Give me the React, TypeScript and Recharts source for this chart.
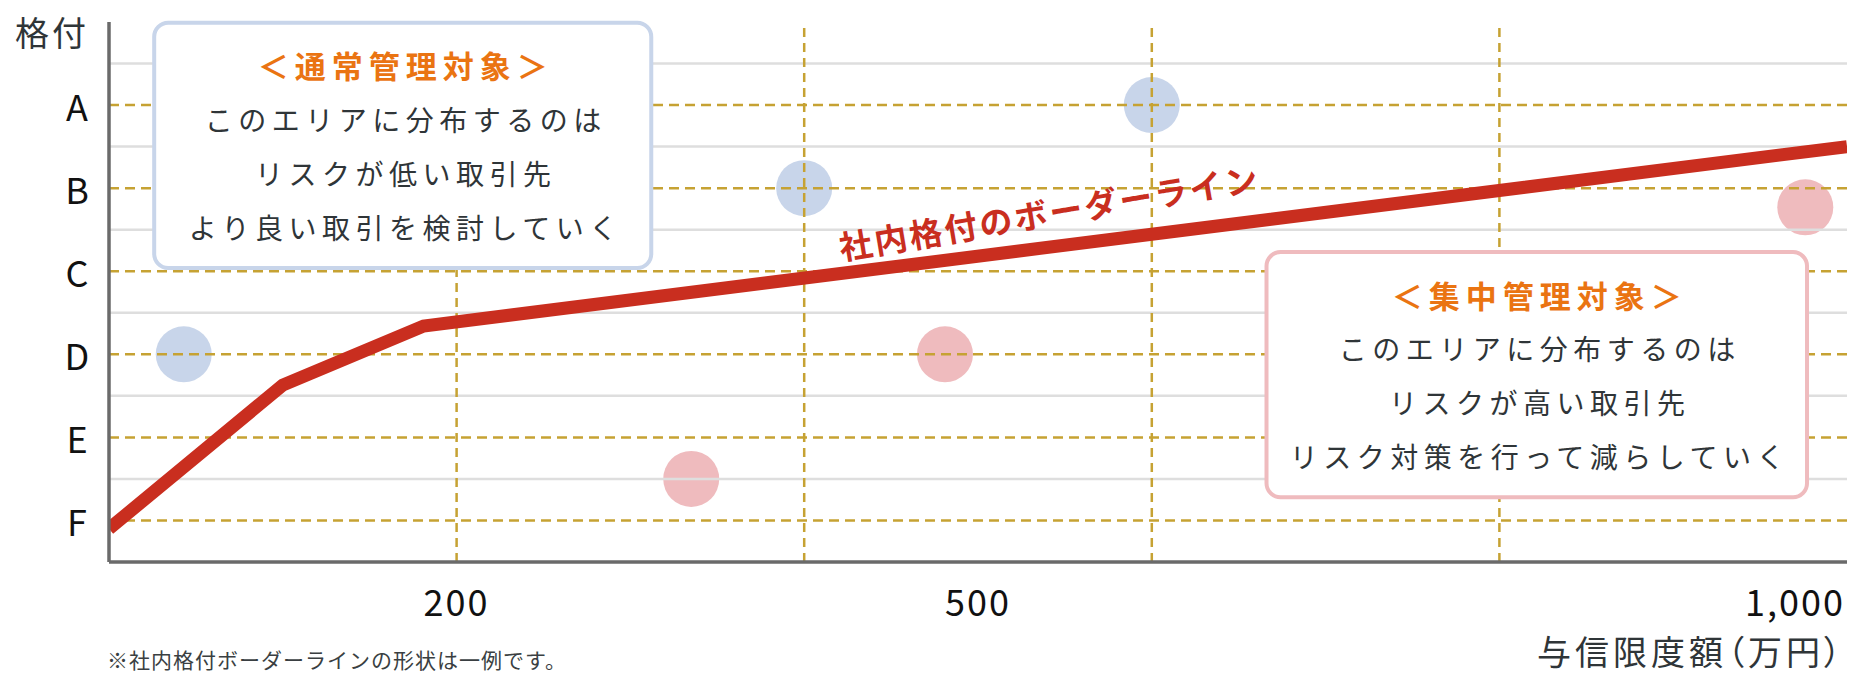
import {
  ComposedChart,
  Label,
  Line,
  ReferenceArea,
  ReferenceDot,
  ReferenceLine,
  Scatter,
  XAxis,
  YAxis,
} from "recharts";

const FONT = "'Noto Sans CJK JP', 'Noto Sans', sans-serif";

// 与信限度額 (万円) の目盛り
const amountTicks = [200, 500, 1000];
const amountTickLabels = ["200", "500", "1,000"];
const amountGrid = [200, 400, 600, 800];

// 格付 (F=1 ... A=6)
const gradeValues = [1, 2, 3, 4, 5, 6];
const gradeLabels = ["F", "E", "D", "C", "B", "A"];
const gradeMidLines = [1.5, 2.5, 3.5, 4.5, 5.5, 6.5];

// 社内格付のボーダーライン
const borderAmount = [0, 100, 181, 1000];
const borderGrade = [0.9, 2.63, 3.34, 5.5];

// 取引先 (リスク低 / リスク高)
const lowRiskAmount = [43, 400, 600];
const lowRiskGrade = [3, 5, 6];
const highRiskAmount = [335, 481, 976];
const highRiskGrade = [1.5, 3, 4.77];

const normalTitle = "＜通常管理対象＞";
const normalLines = ["このエリアに分布するのは", "リスクが低い取引先", "より良い取引を検討していく"];
const focusTitle = "＜集中管理対象＞";
const focusLines = ["このエリアに分布するのは", "リスクが高い取引先", "リスク対策を行って減らしていく"];

const borderData = borderAmount.map((x, i) => ({ x, y: borderGrade[i] }));
const lowRiskData = lowRiskAmount.map((x, i) => ({ x, y: lowRiskGrade[i] }));
const highRiskData = highRiskAmount.map((x, i) => ({ x, y: highRiskGrade[i] }));

const GOLD = "#c6a233";
const GRAY = "#dedede";
const RED = "#c92e1f";
const AXIS = "#6a6a6a";

function NoteBox(props: any) {
  const { x, y, width, height, border, title, lines } = props;
  const cx = x + width / 2;
  return (
    <g>
      <rect
        x={x}
        y={y}
        width={width}
        height={height}
        rx={14}
        ry={14}
        fill="#fff"
        stroke={border}
        strokeWidth={4}
      />
      <text
        x={cx + 3}
        y={y + 42}
        textAnchor="middle"
        dominantBaseline="central"
        fontFamily={FONT}
        fontSize={31}
        fontWeight={700}
        letterSpacing={6}
        fill="#ea7412"
      >
        {title}
      </text>
      {lines.map((line: string, i: number) => (
        <text
          key={line}
          x={cx + 3}
          y={y + 96 + i * 54}
          textAnchor="middle"
          dominantBaseline="central"
          fontFamily={FONT}
          fontSize={28}
          letterSpacing={5.5}
          fill="#2f3538"
        >
          {line}
        </text>
      ))}
    </g>
  );
}

function GradeTick(props: any) {
  const { y, payload } = props;
  return (
    <text
      x={77}
      y={y}
      textAnchor="middle"
      dominantBaseline="central"
      fontFamily={FONT}
      fontSize={36}
      fill="#111"
    >
      {gradeLabels[gradeValues.indexOf(payload.value)]}
    </text>
  );
}

function AmountTick(props: any) {
  const { x, payload } = props;
  const i = amountTicks.indexOf(payload.value);
  const last = i === amountTicks.length - 1;
  return (
    <text
      x={last ? x + 4 : x}
      y={600}
      textAnchor={last ? "end" : "middle"}
      dominantBaseline="central"
      fontFamily={FONT}
      fontSize={36}
      letterSpacing={2}
      fill="#111"
    >
      {amountTickLabels[i]}
    </text>
  );
}

export default function App() {
  return (
    <div style={{ position: "absolute", left: 0, top: 0, width: 1857, height: 676, background: "#fff" }}>
      <ComposedChart
        width={1857}
        height={676}
        margin={{ top: 22, right: 10, bottom: 0, left: 0 }}
      >
        <XAxis
          type="number"
          dataKey="x"
          domain={[0, 1000]}
          ticks={amountTicks}
          tick={<AmountTick />}
          tickLine={false}
          axisLine={{ stroke: AXIS, strokeWidth: 3.5 }}
          height={114}
          allowDataOverflow
        >
          <Label
            content={() => (
              <g>
                <text
                  x={1845}
                  y={650}
                  textAnchor="end"
                  dominantBaseline="central"
                  fontFamily={FONT}
                  fontSize={34}
                  letterSpacing={4}
                  fill="#2f3538"
                  style={{ fontFeatureSettings: "'palt'" }}
                >
                  与信限度額（万円）
                </text>
                <text
                  x={107}
                  y={659}
                  dominantBaseline="central"
                  fontFamily={FONT}
                  fontSize={21}
                  letterSpacing={1}
                  fill="#3a3f42"
                >
                  ※社内格付ボーダーラインの形状は一例です。
                </text>
              </g>
            )}
          />
        </XAxis>
        <YAxis
          type="number"
          dataKey="y"
          domain={[0.5, 7]}
          ticks={gradeValues}
          tick={<GradeTick />}
          tickLine={false}
          axisLine={{ stroke: AXIS, strokeWidth: 3.5 }}
          width={109}
          allowDataOverflow
        >
          <Label
            content={() => (
              <text
                x={15}
                y={31}
                dominantBaseline="central"
                fontFamily={FONT}
                fontSize={34}
                letterSpacing={3}
                fill="#2f3538"
              >
                格付
              </text>
            )}
          />
        </YAxis>

        <Scatter
          data={lowRiskData}
          fill="#c8d5ea"
          isAnimationActive={false}
          zIndex={100}
          shape={(p: any) => <circle cx={p.cx} cy={p.cy} r={28} fill="#c8d5ea" />}
        />
        <Scatter
          data={highRiskData}
          fill="#efbbbe"
          isAnimationActive={false}
          zIndex={100}
          shape={(p: any) => <circle cx={p.cx} cy={p.cy} r={28} fill="#efbbbe" />}
        />

        {gradeMidLines.map((g) => (
          <ReferenceLine key={`m${g}`} y={g} stroke={GRAY} strokeWidth={2.5} zIndex={200} />
        ))}
        {gradeValues.map((g) => (
          <ReferenceLine
            key={`g${g}`}
            y={g}
            stroke={GOLD}
            strokeWidth={2.5}
            strokeDasharray="10 6"
            zIndex={210}
          />
        ))}
        {amountGrid.map((a) => (
          <ReferenceLine
            key={`a${a}`}
            x={a}
            stroke={GOLD}
            strokeWidth={2.5}
            strokeDasharray="9 6"
            zIndex={210}
          />
        ))}

        <Line
          data={borderData}
          dataKey="y"
          stroke={RED}
          strokeWidth={13}
          strokeLinejoin="miter"
          dot={false}
          activeDot={false}
          isAnimationActive={false}
          zIndex={300}
        />

        <ReferenceDot
          x={541}
          y={4.72}
          r={0}
          zIndex={900}
          shape={(p: any) => (
            <text
              x={p.cx}
              y={p.cy}
              textAnchor="middle"
              dominantBaseline="central"
              transform={`rotate(-9.5 ${p.cx} ${p.cy})`}
              fontFamily={FONT}
              fontSize={33}
              fontWeight={700}
              letterSpacing={2.5}
              fill={RED}
            >
              社内格付のボーダーライン
            </text>
          )}
        />

        <ReferenceArea
          x1={26}
          x2={312}
          y1={4.04}
          y2={6.99}
          zIndex={1000}
          ifOverflow="visible"
          shape={(p: any) => (
            <NoteBox {...p} border="#c8d5ea" title={normalTitle} lines={normalLines} />
          )}
        />
        <ReferenceArea
          x1={666}
          x2={977}
          y1={1.28}
          y2={4.23}
          zIndex={1000}
          ifOverflow="visible"
          shape={(p: any) => (
            <NoteBox {...p} border="#efbbbe" title={focusTitle} lines={focusLines} />
          )}
        />
      </ComposedChart>
    </div>
  );
}
